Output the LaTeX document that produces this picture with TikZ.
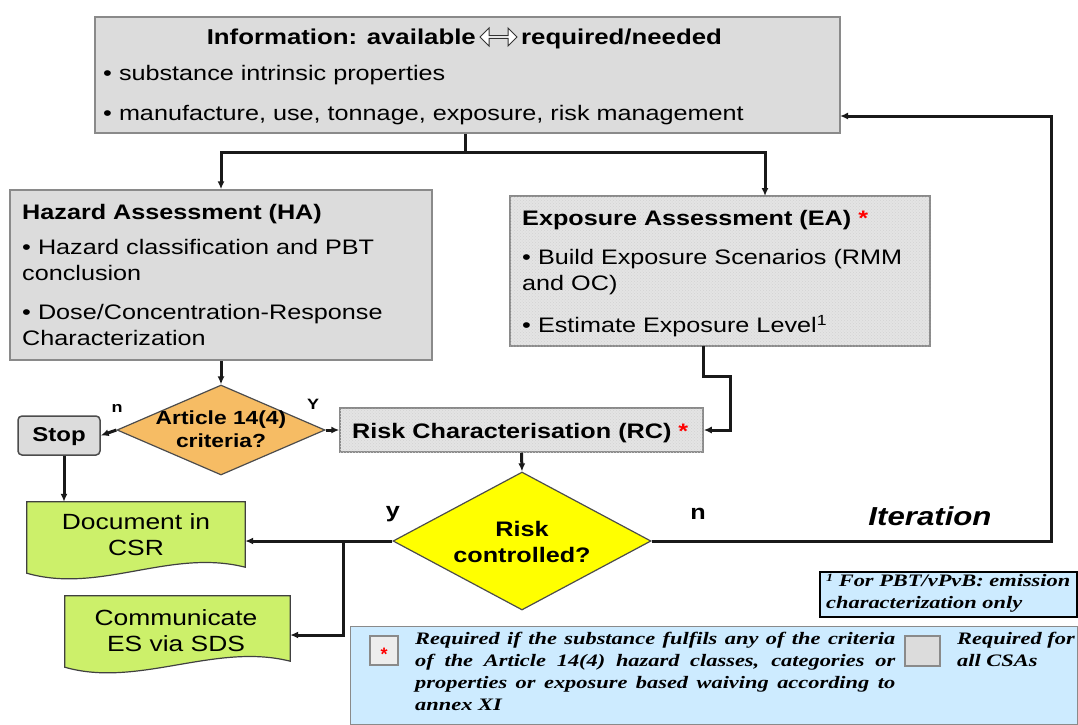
\documentclass[tikz,border=0pt]{standalone}
\usepackage{fontspec}
\setmainfont{Liberation Sans}
\newfontfamily\wide[FakeStretch=1.2]{Liberation Sans}
\newfontfamily\serifw[FakeStretch=1.28]{Liberation Serif}
\usetikzlibrary{shapes.geometric,shapes.arrows,arrows.meta,patterns,calc}
\definecolor{boxgray}{HTML}{DCDCDC}
\definecolor{dotgray}{HTML}{E4E4E4}
\definecolor{artorange}{HTML}{F6BC64}
\definecolor{riskyellow}{HTML}{FFFF00}
\definecolor{docgreen}{HTML}{CCF06A}
\definecolor{legblue}{HTML}{CDEBFF}
\definecolor{edgegray}{HTML}{8A8A8A}
\newcommand\fsz[2]{\fontsize{#1}{#2}\selectfont}
\tikzset{
  graybox/.style={draw=edgegray, fill=boxgray, line width=1.5pt, inner sep=0pt, rectangle},
  dotbox/.style={draw=edgegray, fill=dotgray, line width=1.5pt, inner sep=0pt, rectangle,
     postaction={pattern=crosshatch dots, pattern color=gray!35}},
  conn/.style={-{Latex[length=8pt,width=7pt]}, line width=3pt, black!90},
  plainline/.style={line width=3pt, black!90},
  txt/.style={inner sep=0pt, font=\wide\fsz{21}{26}},
  btxt/.style={inner sep=0pt, font=\wide\bfseries\fsz{21}{26}},
  decision/.style={diamond, draw=black!70, line width=1.2pt, inner sep=0pt},
  docbox/.style={rectangle, inner sep=0pt},
  legtxt/.style={inner sep=0pt, font=\serifw\bfseries\itshape\fsz{17.5}{22}, align=left, anchor=north west},
}
\begin{document}
\begin{tikzpicture}[x=1pt,y=-1pt]
\useasboundingbox (0,0) rectangle (1078,724);
% top box
\node[graybox, minimum width=745pt, minimum height=116pt] (top) at (467.5,75) {};
\node[btxt, font=\wide\bfseries\fsz{21.5}{26}, anchor=base east] (toptitlea) at (476,44) {Information: available};
\node[double arrow, draw=black!80, fill=white, line width=1pt, minimum height=37pt, minimum width=18pt, double arrow head extend=3pt, inner sep=0pt] (dblarrow) at (498.5,37) {};
\node[btxt, font=\wide\bfseries\fsz{21.5}{26}, anchor=base west] (toptitleb) at (521,44) {required/needed};
\node[txt, anchor=west] (topb1) at (103,75) {• substance intrinsic properties};
\node[txt, anchor=west] (topb2) at (103,115) {• manufacture, use, tonnage, exposure, risk management};
% HA
\node[graybox, minimum width=422pt, minimum height=170pt] (ha) at (221,275) {};
\node[btxt, anchor=base west] (hat) at (22,219) {Hazard Assessment (HA)};
\node[txt, anchor=north west, align=left] (hab1) at (22,239) {• Hazard classification and PBT\\conclusion};
\node[txt, anchor=north west, align=left] (hab2) at (22,304) {• Dose/Concentration-Response\\Characterization};
% EA
\node[dotbox, minimum width=420pt, minimum height=150pt] (ea) at (720,271) {};
\node[btxt, anchor=base west] (eat) at (522,225) {Exposure Assessment (EA) \textcolor{red}{*}};
\node[txt, anchor=north west, align=left] (eab1) at (522,249) {• Build Exposure Scenarios (RMM\\and OC)};
\node[txt, anchor=north west, align=left] (eab2) at (522,315) {• Estimate Exposure Level\textsuperscript{1}};
% Article diamond
\node[decision, fill=artorange, minimum width=208pt, minimum height=90pt] (art) at (221,430) {};
\node[btxt, font=\wide\bfseries\fsz{19}{23}, align=center] (artt) at (221,429) {Article 14(4)\\criteria?};
% Stop
\node[graybox, draw=black!70, rounded corners=4pt, minimum width=82pt, minimum height=39pt] (stop) at (59,435.5) {};
\node[btxt, font=\wide\bfseries\fsz{20}{24}] (stopt) at (59,437) {Stop};
% RC
\node[dotbox, minimum width=363pt, minimum height=44pt] (rc) at (521.5,430) {};
\node[btxt, anchor=west] (rct) at (352,433) {Risk Characterisation (RC) \textcolor{red}{*}};
% Risk diamond
\node[decision, fill=riskyellow, minimum width=258pt, minimum height=138pt] (risk) at (522,541) {};
\node[btxt, align=center] (riskt) at (522,542) {Risk\\controlled?};
% Document boxes
\node[docbox, minimum width=218pt, minimum height=78pt] (doc) at (136,541) {};
\fill[docgreen] (doc.north west) -- (doc.north east) -- ([yshift=13pt]doc.south east)
   .. controls ([xshift=-75pt,yshift=32pt]doc.south east) and ([xshift=73pt,yshift=-14pt]doc.south west) .. ([yshift=7pt]doc.south west) -- cycle;
\draw[black!75, line width=1.2pt] (doc.north west) -- (doc.north east) -- ([yshift=13pt]doc.south east)
   .. controls ([xshift=-75pt,yshift=32pt]doc.south east) and ([xshift=73pt,yshift=-14pt]doc.south west) .. ([yshift=7pt]doc.south west) -- cycle;
\node[txt, font=\wide\fsz{22}{26}, align=center] (doct) at (136,535) {Document in\\CSR};
\node[docbox, minimum width=225pt, minimum height=78pt] (com) at (177.5,635) {};
\fill[docgreen] (com.north west) -- (com.north east) -- ([yshift=13pt]com.south east)
   .. controls ([xshift=-75pt,yshift=32pt]com.south east) and ([xshift=73pt,yshift=-14pt]com.south west) .. ([yshift=7pt]com.south west) -- cycle;
\draw[black!75, line width=1.2pt] (com.north west) -- (com.north east) -- ([yshift=13pt]com.south east)
   .. controls ([xshift=-75pt,yshift=32pt]com.south east) and ([xshift=73pt,yshift=-14pt]com.south west) .. ([yshift=7pt]com.south west) -- cycle;
\node[txt, font=\wide\fsz{22}{26}, align=center] (comt) at (176,631) {Communicate\\ES via SDS};
% labels
\node[btxt, font=\wide\bfseries\fsz{15}{18}] (ln1) at (117,408) {n};
\node[btxt, font=\wide\bfseries\fsz{15}{18}] (ly1) at (313,404) {Y};
\node[btxt] (ly2) at (393,514) {y};
\node[btxt] (ln2) at (698,514) {n};
\node[btxt, font=\wide\bfseries\itshape\fsz{26}{30}] (iter) at (930,516) {Iteration};
% connectors
\coordinate (j0) at ($(top.south)+(-2,0)$);
\coordinate (j1) at ($(top.south)+(-2,19)$);
\coordinate (eain) at (765,196);
\coordinate (topin) at (840,116);
\coordinate (loop) at (1051,541);
\coordinate (eaout) at (703,346);
\coordinate (eabend) at (730,376);
\coordinate (br) at (343,541);
\draw[plainline] (j0) -- (j1);
\draw[conn] (j1) -| (ha.north);
\draw[conn] (j1) -| (eain);
\draw[conn] (ha.south) -- (art.north);
\draw[conn] (art.west) -- (stop.east);
\draw[conn] (art.east) -- (rc.west);
\draw[conn] (eaout) |- (eabend) |- (rc.east);
\draw[conn] (rc.south) -- (risk.north);
\draw[conn] (risk.east) -- (loop) |- (topin);
\draw[conn] (risk.west) -- (doc.east);
\draw[conn] (br) |- (com.east);
\draw[conn] ([xshift=5pt]stop.south) -- ([xshift=5pt]stop.south |- doc.north);
% footnote box
\node[rectangle, draw=black, line width=1.8pt, fill=legblue, minimum width=257pt, minimum height=45pt, inner sep=0pt] (fn) at (948.5,594.5) {};
\node[legtxt] (fnt) at (826,574) {{\fsz{11}{11}\raisebox{5pt}{1}} For PBT/vPvB: emission\\characterization only};
% legend
\node[rectangle, draw=edgegray, line width=1pt, fill=legblue, minimum width=727pt, minimum height=98pt, inner sep=0pt] (leg) at (713.5,675) {};
\node[graybox, fill=boxgray!50, minimum width=28pt, minimum height=29pt] (legstar) at (384,650.5) {};
\node[inner sep=0pt, text=red, font=\bfseries\fsz{18}{18}] (legstart) at (384,654) {*};
\node[legtxt] (legt1) at (415,632) {\makebox[480pt][s]{Required if the substance fulfils any of the criteria}\\
\makebox[480pt][s]{of the Article 14(4) hazard classes, categories or}\\
\makebox[480pt][s]{properties or exposure based waiving according to}\\
annex XI};
\node[graybox, minimum width=35pt, minimum height=30pt] (leggray) at (922.5,651) {};
\node[legtxt] (legt2) at (957,632) {Required for\\all CSAs};
\end{tikzpicture}
\end{document}
